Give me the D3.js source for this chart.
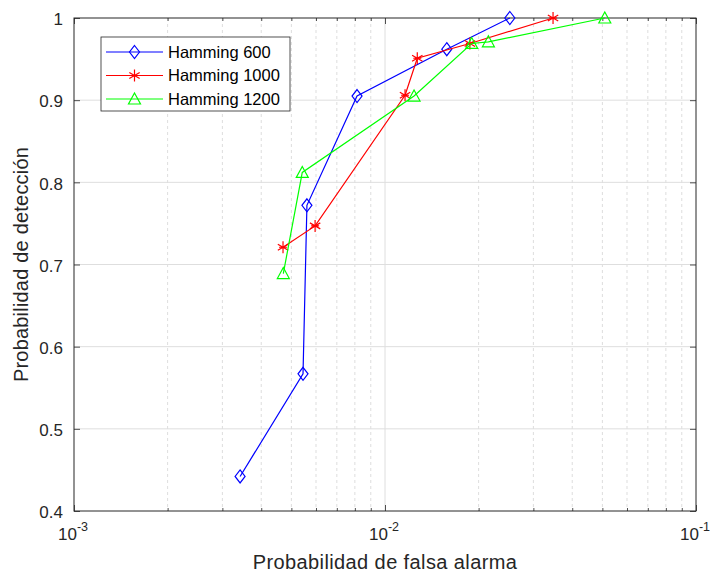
<!DOCTYPE html>
<html>
<head>
<meta charset="utf-8">
<script src="https://cdn.jsdelivr.net/npm/d3@7"></script>
<style>
  body { margin: 0; background: #fff; }
  svg { display: block; font-family: "Liberation Sans", Arial, sans-serif; }
</style>
</head>
<body>
<svg id="chart" width="711" height="572"></svg>
<script>
// ROC curves for three Hamming window lengths
const seriesNames = ["Hamming 600", "Hamming 1000", "Hamming 1200"];
const seriesColors = ["#0000ff", "#ff0000", "#00ff00"];
const seriesMarkers = ["diamond", "star", "triangle"];

const pfa600  = [0.00342, 0.00545, 0.00561, 0.00813, 0.0158, 0.0252];
const pd600   = [0.442, 0.567, 0.772, 0.905, 0.962, 1.0];
const pfa1000 = [0.0047, 0.00596, 0.0116, 0.0127, 0.01875, 0.0347];
const pd1000  = [0.721, 0.747, 0.906, 0.951, 0.969, 1.0];
const pfa1200 = [0.00471, 0.00542, 0.0124, 0.0190, 0.0215, 0.0509];
const pd1200  = [0.689, 0.812, 0.905, 0.969, 0.971, 1.0];

const yTicks = [0.4, 0.5, 0.6, 0.7, 0.8, 0.9, 1];
const xMajor = [1e-3, 1e-2, 1e-1];
const xExponents = ["-3", "-2", "-1"];

const series = [
  { name: seriesNames[0], color: seriesColors[0], marker: seriesMarkers[0], x: pfa600,  y: pd600 },
  { name: seriesNames[1], color: seriesColors[1], marker: seriesMarkers[1], x: pfa1000, y: pd1000 },
  { name: seriesNames[2], color: seriesColors[2], marker: seriesMarkers[2], x: pfa1200, y: pd1200 }
];

const svg = d3.select("#chart");
const pLeft = 74, pRight = 696, pTop = 18, pBottom = 511;
const ink = "#262626";

const x = d3.scaleLog().domain([1e-3, 1e-1]).range([pLeft, pRight]);
const y = d3.scaleLinear().domain([0.4, 1]).range([pBottom, pTop]);

// minor log ticks 2..9 per decade
const xMinor = [];
[1e-3, 1e-2].forEach(d => { for (let k = 2; k <= 9; k++) xMinor.push(d * k); });

const grid = svg.append("g");
grid.selectAll("line.minor").data(xMinor).join("line")
  .attr("x1", d => x(d)).attr("x2", d => x(d))
  .attr("y1", pTop).attr("y2", pBottom)
  .attr("stroke", "#d4d4d4").attr("stroke-width", 0.8)
  .attr("stroke-dasharray", "3,3");
grid.selectAll("line.mx").data([1e-2]).join("line")
  .attr("x1", d => x(d)).attr("x2", d => x(d))
  .attr("y1", pTop).attr("y2", pBottom)
  .attr("stroke", "#dedede").attr("stroke-width", 1);
grid.selectAll("line.my").data(yTicks.slice(1, -1)).join("line")
  .attr("x1", pLeft).attr("x2", pRight)
  .attr("y1", d => y(d)).attr("y2", d => y(d))
  .attr("stroke", "#dedede").attr("stroke-width", 1);

// axes with inward ticks
const axB = svg.append("g").attr("transform", `translate(0,${pBottom})`)
  .call(d3.axisBottom(x).tickValues(xMajor).tickSize(-6).tickFormat(""));
const axBm = svg.append("g").attr("transform", `translate(0,${pBottom})`)
  .call(d3.axisBottom(x).tickValues(xMinor).tickSize(-3).tickFormat(""));
const axT = svg.append("g").attr("transform", `translate(0,${pTop})`)
  .call(d3.axisTop(x).tickValues(xMajor).tickSize(-6).tickFormat(""));
const axTm = svg.append("g").attr("transform", `translate(0,${pTop})`)
  .call(d3.axisTop(x).tickValues(xMinor).tickSize(-3).tickFormat(""));
const axL = svg.append("g").attr("transform", `translate(${pLeft},0)`)
  .call(d3.axisLeft(y).tickValues(yTicks).tickSize(-6).tickFormat(d3.format("~g")));
const axR = svg.append("g").attr("transform", `translate(${pRight},0)`)
  .call(d3.axisRight(y).tickValues(yTicks).tickSize(-6).tickFormat(""));
[axB, axBm, axT, axTm, axL, axR].forEach(g => {
  g.select(".domain").remove();
  g.selectAll("line").attr("stroke", ink).attr("stroke-width", 0.8);
});
axL.selectAll("text").attr("x", -11).attr("dy", "0.4em")
  .attr("fill", ink).style("font-size", "17px").style("font-family", "Liberation Sans, Arial, sans-serif");

// frame
svg.append("rect").attr("x", pLeft).attr("y", pTop)
  .attr("width", pRight - pLeft).attr("height", pBottom - pTop)
  .attr("fill", "none").attr("stroke", ink).attr("stroke-width", 1);

// x tick labels 10^n
const xl = svg.append("g");
xMajor.forEach((v, i) => {
  const t = xl.append("text").attr("x", x(v) - 1).attr("y", 540)
    .attr("text-anchor", "middle").attr("fill", ink).style("font-size", "17px");
  t.append("tspan").text("10");
  t.append("tspan").attr("dy", -9).style("font-size", "12.5px").text(xExponents[i]);
});

// axis titles
svg.append("text").attr("x", x(1e-2)).attr("y", 569)
  .attr("text-anchor", "middle").attr("fill", ink).style("font-size", "20px")
  .style("letter-spacing", "0.4px")
  .text("Probabilidad de falsa alarma");
svg.append("text").attr("transform", `translate(28,${(pTop + pBottom) / 2}) rotate(-90)`)
  .attr("text-anchor", "middle").attr("fill", ink).style("font-size", "20px")
  .style("letter-spacing", "0.2px")
  .text("Probabilidad de detección");

// marker drawing
function drawMarker(g, type, cx, cy, color) {
  if (type === "diamond") {
    g.append("path").attr("d", `M${cx},${cy - 6.5}L${cx + 5},${cy}L${cx},${cy + 6.5}L${cx - 5},${cy}Z`)
      .attr("fill", "none").attr("stroke", color).attr("stroke-width", 1.2);
  } else if (type === "star") {
    const r = 6;
    let d = `M${cx},${cy - r}L${cx},${cy + r}`;
    [30, 150].forEach(a => {
      const rad = a * Math.PI / 180;
      d += `M${cx + r * Math.cos(rad)},${cy - r * Math.sin(rad)}L${cx - r * Math.cos(rad)},${cy + r * Math.sin(rad)}`;
    });
    d += `M${cx - 4},${cy}L${cx + 4},${cy}`;
    g.append("path").attr("d", d).attr("stroke", color).attr("stroke-width", 1.2).attr("fill", "none");
  } else {
    g.append("path").attr("d", `M${cx},${cy - 6}L${cx + 6},${cy + 5}L${cx - 6},${cy + 5}Z`)
      .attr("fill", "none").attr("stroke", color).attr("stroke-width", 1.2);
  }
}

const line = d3.line().x(d => x(d[0])).y(d => y(d[1]));
const plot = svg.append("g");
series.forEach(s => {
  const pts = s.x.map((v, i) => [v, s.y[i]]);
  const g = plot.append("g");
  g.append("path").datum(pts).attr("d", line)
    .attr("fill", "none").attr("stroke", s.color).attr("stroke-width", 1.2);
  pts.forEach(p => drawMarker(g, s.marker, x(p[0]), y(p[1]), s.color));
});

// legend
const lg = svg.append("g");
lg.append("rect").attr("x", 101).attr("y", 37).attr("width", 189).attr("height", 74)
  .attr("fill", "#fff").attr("stroke", ink).attr("stroke-width", 0.8);
series.forEach((s, i) => {
  const ly = 52 + i * 23.5;
  lg.append("line").attr("x1", 106).attr("x2", 163).attr("y1", ly).attr("y2", ly)
    .attr("stroke", s.color).attr("stroke-width", 1.2);
  drawMarker(lg, s.marker, 134.5, ly, s.color);
  lg.append("text").attr("x", 168).attr("y", ly).attr("dy", "0.36em")
    .attr("fill", "#000").style("font-size", "16.5px").text(s.name);
});
</script>
</body>
</html>
